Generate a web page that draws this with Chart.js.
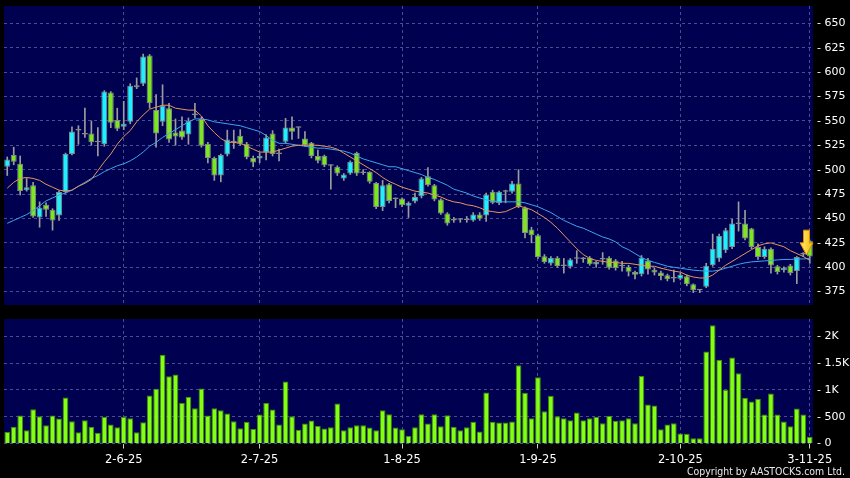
<!DOCTYPE html>
<html lang="en">
<head>
<meta charset="utf-8">
<title>Daily candles with volume</title>
<script src="https://cdn.jsdelivr.net/npm/chart.js@4.4.1/dist/chart.umd.min.js"></script>
<style>
  html, body { margin: 0; padding: 0; background: #000; }
  #wrap { position: relative; width: 850px; height: 478px; background: #000; overflow: hidden; }
  #wrap canvas { position: absolute; left: 0; }
  #price { top: 0; }
  #vol { top: 312px; }
</style>
</head>
<body>
<div id="wrap">
  <canvas id="price" width="850" height="312"></canvas>
  <canvas id="vol" width="850" height="166"></canvas>
</div>
<script>
// trading days, d-m-yy
const dates = [
  '7-5-25','8-5-25','9-5-25','12-5-25','13-5-25','14-5-25','15-5-25','16-5-25','19-5-25','20-5-25','21-5-25','22-5-25','23-5-25','26-5-25','27-5-25','28-5-25','29-5-25','30-5-25',
  '2-6-25','3-6-25','4-6-25','5-6-25','6-6-25','9-6-25','10-6-25','11-6-25','12-6-25','13-6-25','16-6-25','17-6-25','18-6-25','19-6-25','20-6-25','23-6-25','24-6-25','25-6-25','26-6-25','27-6-25','30-6-25',
  '2-7-25','3-7-25','4-7-25','7-7-25','8-7-25','9-7-25','10-7-25','11-7-25','14-7-25','15-7-25','16-7-25','17-7-25','18-7-25','21-7-25','22-7-25','23-7-25','24-7-25','25-7-25','28-7-25','29-7-25','30-7-25','31-7-25',
  '1-8-25','4-8-25','5-8-25','6-8-25','7-8-25','8-8-25','11-8-25','12-8-25','13-8-25','14-8-25','15-8-25','18-8-25','19-8-25','20-8-25','21-8-25','22-8-25','25-8-25','26-8-25','27-8-25','28-8-25','29-8-25',
  '1-9-25','2-9-25','3-9-25','4-9-25','5-9-25','8-9-25','9-9-25','10-9-25','11-9-25','12-9-25','15-9-25','16-9-25','17-9-25','18-9-25','19-9-25','22-9-25','23-9-25','24-9-25','25-9-25','26-9-25','29-9-25','30-9-25',
  '2-10-25','3-10-25','6-10-25','8-10-25','9-10-25','10-10-25','13-10-25','14-10-25','15-10-25','16-10-25','17-10-25','20-10-25','21-10-25','22-10-25','23-10-25','24-10-25','27-10-25','28-10-25','30-10-25','31-10-25',
  '3-11-25'
];

const open = [
  503,515,506,479,484,451,464,459,453,477,
  516,540,536,537,528,526,579,551,544,549,
  584.5,588,617,561,549,563,538,540,536,556,
  552,526.5,512,494,515.5,528,534.7,526.5,512,511.5,
  517.6,537,516,528.5,543.3,543,532,527.5,514,514,
  504,503,491,496,517,496.5,497.7,486.4,461.8,485,
  470,470.4,463,467.4,472.8,493.3,484,469.4,455,448,
  448.7,448.7,448,454,453,477.3,465.8,477.3,477.3,485.8,
  461.2,438.6,432.8,411.2,403.7,409.8,401.3,400.6,408.8,408.8,
  409.8,402.7,407.8,409.8,407,401,400.6,395,392.7,407,
  397.5,394.5,391.7,388.5,388.3,390.7,382.5,376.3,380,402,
  409,417.4,420.8,444.8,444.8,439.7,420.8,410.5,419,400.9,
  396.8,401.9,396.1,413,427.2
];
const close = [
  510.5,508,478,482,452,461,459,448,477,516,
  539,540.5,537.5,528,528.4,580,548,542,547,586,
  586.5,616,568,537,565.5,531,534,533,550,556.5,
  524.5,512,494,515,531,528.4,526.5,512.8,507.4,514,
  533,516,516.5,543.3,538.8,543.4,525,514,509,504.6,
  504.4,496,495,508,496,497.5,487.5,461.8,484,468,
  470.4,463.5,466,472.1,491,484,469.4,455,444.8,448.5,
  449.1,448.5,454,449.7,474.5,466,477.3,477.7,485.8,462,
  435.2,432.8,410.5,405.4,409.5,401.3,401.7,408,409.2,408.4,
  403,405.4,408.2,399.6,399.2,401.4,395.5,392.4,409.8,397.8,
  394.5,391,387.6,388.9,392.4,382.5,376.3,376.7,401.5,419,
  432,437.9,444.8,444.4,429.4,420.8,410.5,419,401.9,395.1,
  399.5,394.1,410.5,413.4,411.1
];
const high = [
  513,523,514,491,487,467,466,460,478,517,
  544,545,563,550,543,581,580,563,570,588,
  594,618.5,618,577,587,568,552,554,553,568,
  554,528,513,516,540.5,540.5,541,528,514,517,
  536,540,521,552.5,554,543.5,539,528,520,515,
  505,504,496,509,518,500,498,487,489,486,
  471,471,467,476,492,502,485,470,456,451,
  450,452,456,456,476,479,478,479,488,500,
  462,441,434,413,411,411,409,409,417,410,
  411,406,415,411,408,406,402,396,412,409,
  399,396,393,397,394,392,383,377,404,434,
  434,440,449,467,458.4,440,424,421,420,402,
  400.5,403,411,415,428
];
const low = [
  494,505,474,478,451,441,452,438,448,476,
  515,526,533,525,514,524,543,540,541,547,
  583,586,563,523,545,528,525,531,526,553,
  523,507,489,487.5,514,521.7,525,511,503,507,
  510,514,509,527,531,532,524,512,507,503,
  480,494,489,495,494,495,486,460,458,466,
  461,462,451,466,471,483,468,454,443,446,
  446,446,447,448,447,465,464,466,476,461,
  430,425,409,404,402,400,394,399,404,405,
  402,400,403,398,397,396,391,388,391,393,
  392,387,386,385,387,381,374,374,379,401,
  406,415,419,437,428,419,408,409,394,393,
  395,392,383.2,411,404
];
const volume = [
  216,310,521,248,639,509,341,521,466,857,
  416,211,434,310,198,496,354,304,496,472,
  211,397,894,1018,1652,1254,1286,757,869,658,
  1025,521,658,621,559,416,285,403,272,540,
  757,634,354,1156,509,254,372,428,328,279,
  304,745,248,304,341,341,298,248,621,546,
  298,266,142,304,546,372,546,322,528,310,
  248,304,403,223,950,403,391,391,410,1459,
  944,472,1236,602,888,509,472,434,577,434,
  472,496,379,515,422,434,472,379,1260,727,
  708,266,354,379,186,180,99,99,1715,2205,
  1559,1000,1603,1311,851,783,833,540,932,540,
  410,322,652,540,124
];
// moving averages as drawn (orange = short, blue = long)
const maShort = [
  481,487,491,492,491,489,485,482,479,478,
  479,483,486,490,499,508,516,526,534,540,
  549,556,562,564,566,566,563,562,561,561,
  555,545,538,532,528,528,527,524,521,518,
  518,518,520,522,524,525,525,525,525,524,
  523,521,517,513,509,505,501,497,492,488,
  485,482,480,478,477,476,474,472,469,467,
  466,464,463,461,458,457,456,457,460,463,
  461,459,455,451,446,440,433,426,419,413,
  409,407,406,405,405,404,404,403,402,401,
  401,399,397.5,396,395,392,390,389,389,392,
  397,402,406,410,414,418,422,424,425,423,
  421,417,414,411,407
];
const maLong = [
  445,448,451,454,458,463,468,471,474,476,
  479,483,487,491,494,498,501,504,506,509,
  513,518,524,528,533,537,541,545,549,552,
  552,551,549,548,547,546,545,543,541,539,
  535,530,527,527,526,525,524,523,522,522,
  521,520,519,517,514,511,509,507,505,503,
  503,501,499,497,495,492,490,487,484,480,
  478,476,473,471,469,468,467,467,467,467,
  466,464,462,459,456,452,448,445,442,440,
  437,434,431,429,426,421,418,414,410,407,
  405,403,401,400,399,398,397,396.5,396,396,
  397,399,401,403,404.5,405.5,406,406.5,407,407.5,
  408,408,408.5,408.5,409
];
const priceTicks = [375, 400, 425, 450, 475, 500, 525, 550, 575, 600, 625, 650];
const volTicks = [0, 500, 1000, 1500, 2000];
const volTickLabels = ['0', '500', '1K', '1.5K', '2K'];
const arrowMark = { at: 123.5, top: 438, neck: 425, tip: 412.5 };

const NAVY = '#000050';
const GRID = '#4c4c8e';
const CYAN = '#1ef0ff';
const GREEN = '#7ee620';
const DOJI = '#a8a8a8';

Chart.defaults.font.family = '"DejaVu Sans", sans-serif';
Chart.defaults.font.size = 11;
Chart.defaults.color = '#ffffff';
Chart.defaults.animation = false;

const monthStart = dates.map((d, i) => i > 0 && d.split('-')[1] !== dates[i - 1].split('-')[1]);

const plotBg = {
  id: 'plotBg',
  beforeDraw(chart) {
    const { ctx, chartArea: a } = chart;
    ctx.save();
    ctx.fillStyle = NAVY;
    ctx.fillRect(a.left, a.top, a.right - a.left, a.bottom - a.top);
    ctx.restore();
  }
};

const arrowPlugin = {
  id: 'arrow',
  afterDatasetsDraw(chart) {
    const { ctx, scales: { x, y } } = chart;
    const cx = (x.getPixelForValue(Math.floor(arrowMark.at)) + x.getPixelForValue(Math.ceil(arrowMark.at))) / 2;
    const yt = y.getPixelForValue(arrowMark.top);
    const yn = y.getPixelForValue(arrowMark.neck);
    const yp = y.getPixelForValue(arrowMark.tip);
    ctx.save();
    const g = ctx.createLinearGradient(cx - 7, 0, cx + 7, 0);
    g.addColorStop(0, '#fff27a');
    g.addColorStop(1, '#f4b400');
    ctx.beginPath();
    ctx.moveTo(cx - 3, yt);
    ctx.lineTo(cx + 3, yt);
    ctx.lineTo(cx + 3, yn);
    ctx.lineTo(cx + 6.5, yn);
    ctx.lineTo(cx, yp);
    ctx.lineTo(cx - 6.5, yn);
    ctx.lineTo(cx - 3, yn);
    ctx.closePath();
    ctx.fillStyle = g;
    ctx.fill();
    ctx.strokeStyle = '#d98c00';
    ctx.lineWidth = 1;
    ctx.stroke();
    ctx.restore();
  }
};

const copyright = {
  id: 'copyright',
  afterDraw(chart) {
    const ctx = chart.ctx;
    const txt = 'Copyright by AASTOCKS.com Ltd.';
    ctx.save();
    ctx.font = '11px "DejaVu Sans"';
    const w = ctx.measureText(txt).width;
    ctx.translate(845, 160);
    ctx.scale(158 / w, 1);
    ctx.textAlign = 'right';
    ctx.textBaseline = 'middle';
    ctx.fillStyle = '#e8e8e8';
    ctx.fillText(txt, 0, 0);
    ctx.restore();
  }
};

function xAxis(showLabels) {
  return {
    type: 'category',
    offset: true,
    grid: {
      offset: false,
      color: c => monthStart[c.index] ? GRID : 'transparent',
      tickColor: c => monthStart[c.index] ? '#cfcfcf' : 'transparent',
      drawTicks: showLabels,
      tickLength: 5,
      tickBorderDash: []
    },
    border: { display: false, dash: [3, 3] },
    ticks: {
      display: showLabels,
      autoSkip: false,
      maxRotation: 0,
      padding: 5,
      color: '#ffffff',
      font: { size: 11.5 },
      callback: (v, i) => monthStart[i] ? dates[i] : ''
    },
    afterFit: s => {
      s.height = showLabels ? 34.5 : 0;
      s.paddingLeft = 0;
      s.paddingRight = 0;
    }
  };
}

function yAxis(min, max, ticks, labels) {
  return {
    position: 'right',
    min: min,
    max: max,
    afterBuildTicks: s => { s.ticks = ticks.map(v => ({ value: v })); },
    grid: { color: GRID, drawTicks: false },
    border: { display: false, dash: [3, 3] },
    ticks: {
      color: '#ffffff',
      padding: 4,
      callback: (v, i) => '- ' + labels[i]
    },
    afterFit: s => {
      s.width = 37;
      s.paddingTop = 0;
      s.paddingBottom = 0;
    }
  };
}

const bodyColor = dates.map((d, i) => {
  const diff = close[i] - open[i];
  if (Math.abs(diff) < 1) return DOJI;
  return diff > 0 ? CYAN : GREEN;
});

new Chart(document.getElementById('price'), {
  type: 'bar',
  data: {
    labels: dates,
    datasets: [
      {
        type: 'line', label: 'MA short', data: maShort,
        borderColor: '#e8955c', borderWidth: 1, pointRadius: 0, tension: 0, order: 1
      },
      {
        type: 'line', label: 'MA long', data: maLong,
        borderColor: '#3ba7ea', borderWidth: 1, pointRadius: 0, tension: 0, order: 1
      },
      {
        label: 'Body', data: dates.map((d, i) => [open[i], close[i]]),
        backgroundColor: bodyColor, borderColor: '#808c88', borderWidth: 1,
        borderSkipped: false, minBarLength: 1.5,
        barPercentage: 0.92, categoryPercentage: 1, grouped: false, order: 2
      },
      {
        label: 'Wick', data: dates.map((d, i) => [low[i], high[i]]),
        backgroundColor: '#9c9c9c', borderWidth: 0, barThickness: 1,
        grouped: false, order: 3
      }
    ]
  },
  options: {
    responsive: false,
    devicePixelRatio: 1,
    layout: { padding: { left: 4, top: 6, right: 0, bottom: 7 } },
    plugins: { legend: { display: false }, tooltip: { enabled: false } },
    scales: {
      x: xAxis(false),
      y: yAxis(361.3, 667.7, priceTicks, priceTicks.map(String))
    }
  },
  plugins: [plotBg, arrowPlugin]
});

new Chart(document.getElementById('vol'), {
  type: 'bar',
  data: {
    labels: dates,
    datasets: [{
      label: 'Volume', data: volume,
      backgroundColor: '#84ff14', borderColor: '#3f8f08', borderWidth: 1,
      barPercentage: 0.88, categoryPercentage: 1
    }]
  },
  options: {
    responsive: false,
    devicePixelRatio: 1,
    layout: { padding: { left: 4, top: 7, right: 0, bottom: 0 } },
    plugins: { legend: { display: false }, tooltip: { enabled: false } },
    scales: {
      x: xAxis(true),
      y: yAxis(0, 2320, volTicks, volTickLabels)
    }
  },
  plugins: [plotBg, copyright]
});
</script>
</body>
</html>
